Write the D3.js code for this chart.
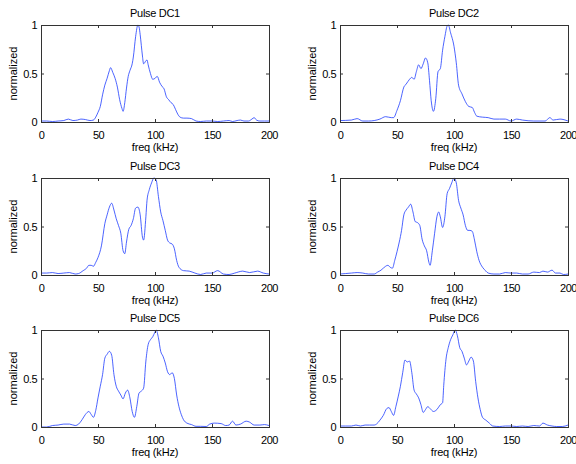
<!DOCTYPE html>
<html>
<head>
<meta charset="utf-8">
<script src="https://cdn.jsdelivr.net/npm/d3@7/dist/d3.min.js"></script>
<style>
  html, body { margin: 0; padding: 0; background: #fff; }
  svg { display: block; font-family: "Liberation Sans", Arial, Helvetica, sans-serif; }
</style>
</head>
<body>
<svg id="chart" width="576" height="464"></svg>
<script>
// ---- data (freq kHz, normalized amplitude) ----
const titles = ["Pulse DC1", "Pulse DC2", "Pulse DC3", "Pulse DC4", "Pulse DC5", "Pulse DC6"];
const xTicks = [0, 50, 100, 150, 200];
const yTicks = [0, 0.5, 1];
const xLabel = "freq (kHz)";
const yLabel = "normalized";

const dc1 = [[0,0.01],[5,0.01],[10,0.005],[15,0.01],[20,0.015],[24,0.03],[28,0.015],[32,0.02],[35,0.03],[39,0.025],[43,0.015],[46,0.02],[48,0.05],[50,0.1],[52,0.16],[54,0.28],[56,0.38],[58,0.45],[60,0.53],[61,0.56],[63,0.51],[65,0.45],[67,0.36],[69,0.23],[71,0.14],[72,0.11],[73.5,0.2],[75,0.35],[76.5,0.47],[78,0.53],[80,0.6],[81,0.67],[83,0.88],[85,1.0],[86,0.98],[87,0.9],[88,0.79],[89,0.68],[90,0.6],[92,0.63],[93,0.64],[94,0.59],[96,0.5],[98,0.44],[100,0.45],[102,0.47],[104,0.41],[106,0.37],[108,0.34],[110,0.26],[112,0.23],[114,0.2],[116,0.18],[118,0.13],[120,0.08],[122,0.05],[125,0.04],[128,0.04],[132,0.035],[136,0.01],[140,0.005],[145,0.01],[150,0.01],[155,0.005],[160,0.01],[165,0.015],[168,0.005],[172,0.015],[175,0.02],[178,0.01],[182,0.01],[185,0.03],[187,0.045],[189,0.02],[192,0.01],[196,0.01],[200,0.01]];

const dc2 = [[0,0.015],[10,0.02],[15,0.035],[20,0.01],[25,0.01],[30,0.015],[35,0.03],[40,0.055],[45,0.045],[47,0.045],[50,0.12],[53,0.22],[56,0.36],[58,0.39],[61,0.44],[63,0.46],[65,0.44],[67,0.52],[69,0.59],[71,0.55],[73,0.6],[75,0.66],[77,0.61],[78.5,0.43],[80,0.22],[82,0.11],[84,0.24],[86,0.52],[88,0.55],[90,0.74],[92,0.88],[94,0.99],[95,1.0],[97,0.92],[100,0.78],[102,0.61],[104,0.38],[107,0.29],[110,0.21],[113,0.16],[116,0.15],[118,0.1],[120,0.06],[125,0.05],[130,0.045],[135,0.03],[140,0.03],[145,0.03],[150,0.01],[155,0.03],[160,0.02],[170,0.01],[180,0.01],[184,0.045],[187,0.02],[193,0.03],[200,0.01]];

const dc3 = [[0,0.02],[5,0.02],[10,0.025],[15,0.015],[20,0.02],[25,0.025],[30,0.01],[33,0.015],[37,0.045],[40,0.07],[42,0.1],[44,0.1],[46,0.09],[48,0.13],[50,0.18],[53,0.3],[56,0.53],[58,0.62],[60,0.7],[62,0.74],[64,0.67],[66,0.58],[68,0.51],[70,0.43],[72,0.25],[73.5,0.22],[75,0.34],[77,0.47],[79,0.51],[81,0.58],[83,0.69],[85,0.7],[87,0.62],[89,0.39],[90,0.36],[92,0.6],[93,0.77],[95,0.88],[97,0.95],[99,1.0],[101,0.98],[103,0.81],[105,0.65],[107,0.56],[109,0.46],[111,0.36],[113,0.33],[115,0.32],[117,0.27],[119,0.15],[121,0.08],[125,0.045],[130,0.04],[135,0.02],[140,0.005],[145,0.02],[150,0.02],[155,0.045],[160,0.01],[165,0.005],[170,0.02],[177,0.04],[183,0.025],[190,0.04],[195,0.02],[200,0.01]];

const dc4 = [[0,0.01],[5,0.015],[10,0.02],[15,0.025],[20,0.02],[25,0.01],[30,0.01],[33,0.03],[36,0.05],[40,0.09],[42,0.1],[44,0.08],[46,0.07],[48,0.15],[50,0.24],[52,0.34],[54,0.46],[56,0.62],[58,0.67],[60,0.7],[62,0.73],[64,0.65],[66,0.55],[68,0.54],[70,0.51],[72,0.37],[74,0.3],[76,0.25],[78,0.13],[79,0.1],[81,0.25],[83,0.43],[85,0.6],[86.5,0.65],[88,0.6],[90,0.49],[92,0.6],[94,0.84],[96,0.89],[98,0.95],[100,1.0],[102,0.95],[104,0.77],[106,0.69],[108,0.62],[110,0.51],[112,0.46],[114,0.46],[116,0.45],[118,0.36],[120,0.24],[122,0.15],[125,0.08],[128,0.04],[130,0.02],[135,0.01],[140,0.01],[145,0.025],[150,0.02],[155,0.02],[160,0.01],[165,0.01],[170,0.03],[175,0.025],[178,0.04],[182,0.03],[186,0.05],[189,0.02],[193,0.02],[196,0.005],[200,0.01]];

const dc5 = [[0,0],[5,0],[10,0.015],[15,0.02],[20,0.03],[25,0.03],[30,0.015],[33,0.03],[36,0.075],[39,0.13],[42,0.16],[44,0.13],[46,0.1],[48,0.17],[50,0.3],[52,0.42],[54,0.54],[56,0.71],[58,0.75],[60,0.78],[62,0.74],[64,0.54],[66,0.42],[68,0.37],[70,0.33],[72,0.29],[74,0.35],[76,0.38],[78,0.3],[80,0.16],[82,0.1],[84,0.21],[86,0.35],[88,0.37],[90,0.4],[92,0.68],[94,0.85],[96,0.9],[98,0.93],[100,0.98],[101,1.0],[103,0.92],[105,0.78],[107,0.73],[109,0.66],[111,0.57],[113,0.54],[115,0.56],[117,0.5],[119,0.33],[121,0.21],[123,0.13],[125,0.075],[128,0.04],[132,0.025],[136,0.007],[140,0.007],[145,0.005],[148,0.03],[152,0.04],[158,0.035],[162,0.015],[165,0.02],[168,0.06],[171,0.02],[175,0.03],[180,0.06],[183,0.05],[187,0.02],[192,0.02],[196,0.025],[200,0.015]];

const dc6 = [[0,0.01],[5,0.01],[10,0.01],[14,0.02],[18,0.01],[22,0.02],[26,0.02],[30,0.02],[32,0.03],[35,0.07],[38,0.12],[41,0.19],[43,0.2],[45,0.16],[47,0.12],[49,0.21],[51,0.31],[53,0.42],[55,0.56],[57,0.69],[59,0.67],[61,0.68],[63,0.56],[65,0.38],[67,0.34],[69,0.3],[71,0.23],[73,0.15],[75,0.18],[77,0.21],[79,0.19],[82,0.16],[85,0.18],[88,0.23],[90,0.25],[91,0.43],[93,0.7],[95,0.82],[97,0.9],[99,0.95],[101,1.0],[103,0.94],[105,0.82],[107,0.78],[109,0.71],[111,0.64],[113,0.68],[115,0.72],[117,0.68],[119,0.47],[121,0.3],[123,0.18],[125,0.1],[128,0.07],[131,0.04],[134,0.01],[140,0.005],[145,0.01],[150,0.01],[155,0.005],[160,0.01],[165,0.005],[170,0.015],[175,0.01],[178,0.04],[182,0.02],[186,0.01],[190,0.005],[195,0.005],[200,0.02]];

const series = [dc1, dc2, dc3, dc4, dc5, dc6];

// ---- layout ----
const colLeft = [41, 340];
const rowTop = [25, 178, 330];
const plotW = 228;
const plotH = 97;
const tick = 3;
const fontSize = 11;
const axisColor = "#333";
const lineColor = "#1030ff";
const fontFam = "'Liberation Sans', Arial, Helvetica, sans-serif";

const svg = d3.select("#chart");

series.forEach((data, i) => {
  const left = colLeft[i % 2];
  const top = rowTop[Math.floor(i / 2)];
  const x = d3.scaleLinear().domain([0, 200]).range([left, left + plotW]);
  const y = d3.scaleLinear().domain([0, 1]).range([top + plotH, top]);

  const g = svg.append("g");

  // data line
  const line = d3.line()
    .x(d => x(d[0]))
    .y(d => y(d[1]))
    .curve(d3.curveMonotoneX);
  g.append("path")
    .datum(data)
    .attr("fill", "none")
    .attr("stroke", lineColor)
    .attr("stroke-width", 0.75)
    .attr("d", line);

  // axes with inward ticks
  const bottom = g.append("g").attr("transform", `translate(0,${top + plotH})`)
    .call(d3.axisBottom(x).tickValues(xTicks).tickSize(-tick).tickSizeOuter(0).tickPadding(9).tickFormat(d3.format("d")));
  const topAx = g.append("g").attr("transform", `translate(0,${top})`)
    .call(d3.axisTop(x).tickValues(xTicks).tickSize(-tick).tickSizeOuter(0).tickFormat(""));
  const leftAx = g.append("g").attr("transform", `translate(${left},0)`)
    .call(d3.axisLeft(y).tickValues(yTicks).tickSize(-tick).tickSizeOuter(0).tickPadding(4).tickFormat(d => d === 0.5 ? "0.5" : d3.format("d")(d)));
  const rightAx = g.append("g").attr("transform", `translate(${left + plotW},0)`)
    .call(d3.axisRight(y).tickValues(yTicks).tickSize(-tick).tickSizeOuter(0).tickFormat(""));

  [bottom, topAx, leftAx, rightAx].forEach(a => {
    a.select(".domain").remove();
    a.selectAll("line").attr("stroke", axisColor);
    a.selectAll("text").attr("fill", "#000").style("font-size", fontSize + "px")
      .style("font-family", fontFam).style("letter-spacing", "-0.5px");
  });

  // frame
  g.append("rect")
    .attr("x", left + 0.5).attr("y", top + 0.5)
    .attr("width", plotW).attr("height", plotH)
    .attr("fill", "none").attr("stroke", axisColor).attr("stroke-width", 1);

  // title
  g.append("text")
    .attr("x", left + plotW / 2).attr("y", top - 8)
    .attr("text-anchor", "middle")
    .style("font-size", fontSize + "px")
    .style("letter-spacing", "-0.3px")
    .text(titles[i]);

  // x label
  g.append("text")
    .attr("x", left + plotW / 2).attr("y", top + plotH + 29)
    .attr("text-anchor", "middle")
    .style("font-size", fontSize + "px")
    .style("letter-spacing", "-0.2px")
    .text(xLabel);

  // y label
  g.append("text")
    .attr("transform", `translate(${left - 24},${top + plotH / 2}) rotate(-90)`)
    .attr("text-anchor", "middle")
    .style("font-size", fontSize + "px")
    .text(yLabel);
});
</script>
</body>
</html>
